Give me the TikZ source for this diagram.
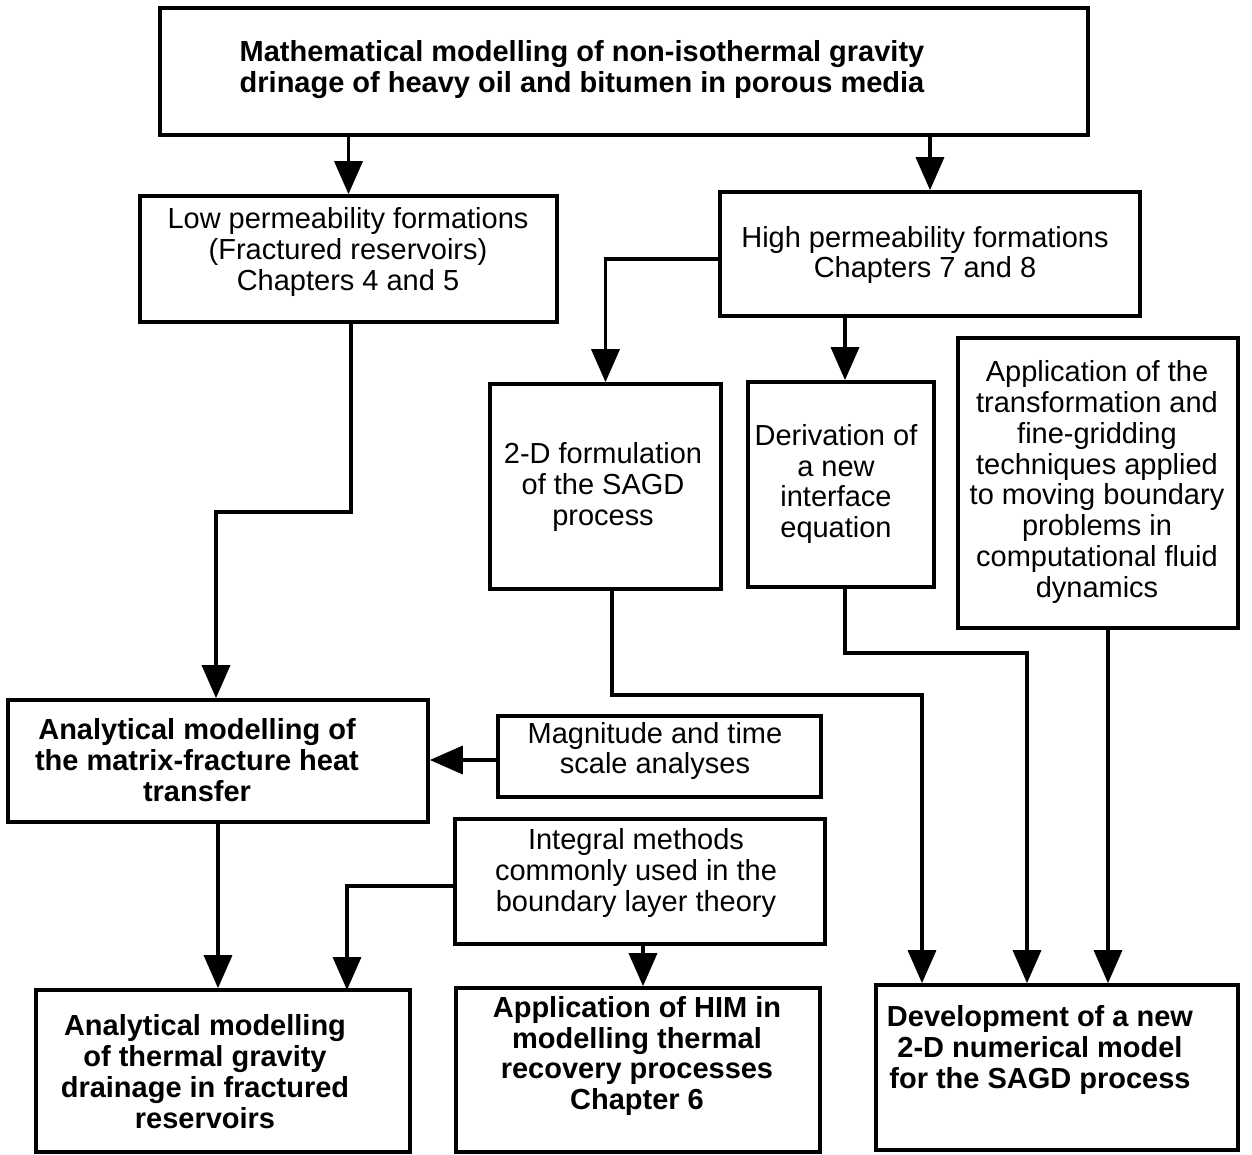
\documentclass[tikz,border=0pt]{standalone}
\usepackage{fontspec}
\setmainfont{Liberation Sans}
\usetikzlibrary{arrows.meta}
\begin{document}
\begin{tikzpicture}[x=0.02cm,y=-0.02cm,
  box/.style={draw=black,line width=2.1pt,inner sep=0pt,rectangle},
  txt/.style={align=center,inner sep=0pt,font=\fontsize{16.5}{17.6}\selectfont},
  btxt/.style={txt,font=\fontsize{16.5}{17.6}\selectfont\bfseries},
  arr/.style={line width=2pt,-{Triangle[width=0.56cm,length=0.66cm]}}]
\useasboundingbox[fill=white] (0,0) rectangle (1252,1154);
% boxes
\node[box,minimum width=18.56cm,minimum height=2.54cm] (top) at (624,71.5) {};
\node[box,minimum width=8.34cm,minimum height=2.52cm] (low) at (348.5,259) {};
\node[box,minimum width=8.4cm,minimum height=2.48cm] (high) at (930,254) {};
\node[box,minimum width=4.62cm,minimum height=4.1cm] (form) at (605.5,486.5) {};
\node[box,minimum width=3.72cm,minimum height=4.1cm] (deriv) at (841,484.5) {};
\node[box,minimum width=5.6cm,minimum height=5.8cm] (transf) at (1098,483) {};
\node[box,minimum width=8.4cm,minimum height=2.44cm] (matrix) at (218,761) {};
\node[box,minimum width=6.46cm,minimum height=1.62cm] (mag) at (659.5,756.5) {};
\node[box,minimum width=7.4cm,minimum height=2.5cm] (integ) at (640,881.5) {};
\node[box,minimum width=7.48cm,minimum height=3.24cm] (thermal) at (223,1071) {};
\node[box,minimum width=7.28cm,minimum height=3.28cm] (him) at (638,1070) {};
\node[box,minimum width=7.24cm,minimum height=3.3cm] (dev) at (1057,1067.5) {};
% texts
\node[btxt] (ttop) at (582,70) {Mathematical modelling of non-isothermal gravity\\drinage of heavy oil and bitumen in porous media};
\node[txt] (tlow) at (348,252) {Low permeability formations\\(Fractured reservoirs)\\Chapters 4 and 5};
\node[txt] (thigh) at (925,255) {High permeability formations\\Chapters 7 and 8};
\node[txt] (tform) at (603,487) {2-D formulation\\of the SAGD\\process};
\node[txt] (tderiv) at (836,484) {Derivation of\\a new\\interface\\equation};
\node[txt] (ttransf) at (1097,482) {Application of the\\transformation and\\fine-gridding\\techniques applied\\to moving boundary\\problems in\\computational fluid\\dynamics};
\node[btxt] (tmatrix) at (197,760) {Analytical modelling of\\the matrix-fracture heat\\transfer};
\node[txt] (tmag) at (655,751) {Magnitude and time\\scale analyses};
\node[txt] (tinteg) at (636,873) {Integral methods\\commonly used in the\\boundary layer theory};
\node[btxt] (tthermal) at (205,1072) {Analytical modelling\\of thermal gravity\\drainage in fractured\\reservoirs};
\node[btxt] (thim) at (637,1056) {Application of HIM in\\modelling thermal\\recovery processes\\Chapter 6};
\node[btxt] (tdev) at (1040,1050) {Development of a new\\2-D numerical model\\for the SAGD process};
% junction coordinates
\coordinate (j0) at (351,322);
\coordinate (j1) at (351,512);
\coordinate (j3) at (216,700);
\coordinate (j2) at (347,990);
\coordinate (b1) at (612,695);
\coordinate (b2) at (845,653);
\coordinate (d1) at (922,985);
\coordinate (d2) at (1027,985);
\coordinate (d3) at (1108,985);
% connectors
\draw[arr] (top.south -| low.north) -- (low.north);
\draw[arr] (top.south -| high.north) -- (high.north);
\draw[arr] ([yshift=-0.1cm]high.west) -| (form.north);
\draw[arr] (high.south -| b2) -- (b2 |- deriv.north);
\draw[arr] (low.south -| j0) -- (j1) -| (j3 |- matrix.north);
\draw[arr] ([yshift=-0.07cm]mag.west) -- ([yshift=-0.07cm]mag.west -| matrix.east);
\draw[arr] (matrix.south) -- (matrix.south |- thermal.north);
\draw[arr] ([yshift=-0.09cm]integ.west) -| (j2);
\draw[arr] (integ.south -| 643,0) -- (him.north -| 643,0);
\draw[arr] (form.south -| b1) -- (b1) -| (d1 |- dev.north);
\draw[arr] (deriv.south -| b2) -- (b2) -| (d2 |- dev.north);
\draw[arr] (transf.south -| d3) -- (d3 |- dev.north);
\end{tikzpicture}
\end{document}
